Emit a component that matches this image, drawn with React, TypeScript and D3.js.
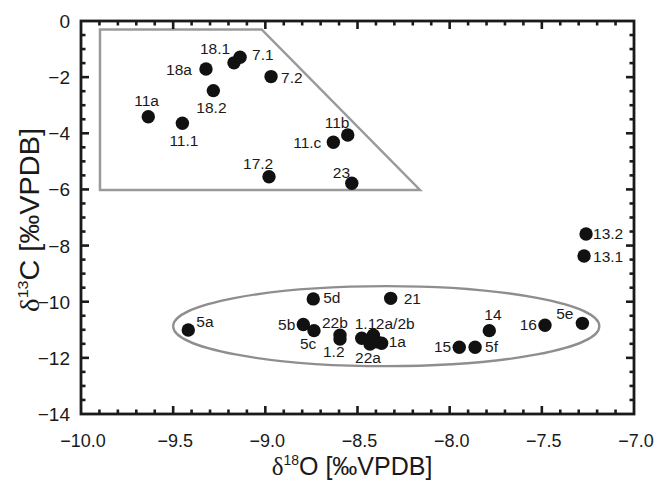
import * as d3 from "d3";

// sample ids, d18O (x) and d13C (y)
const samples = ["11a", "11.1", "18a", "18.2", "18.1", "7.1", "7.2", "11b", "11.c", "17.2", "23",
  "5a", "5d", "5b", "5c", "22b", "1.2", "1.1", "2a", "2b", "22a", "1a", "21",
  "14", "15", "5f", "16", "5e", "13.2", "13.1"];
const d18O = [-9.635, -9.45, -9.322, -9.282, -9.17, -9.137, -8.969, -8.553, -8.631, -8.98, -8.531,
  -9.418, -8.74, -8.794, -8.736, -8.595, -8.595, -8.477, -8.414, -8.396, -8.432, -8.369, -8.32,
  -7.785, -7.948, -7.862, -7.483, -7.28, -7.26, -7.271];
const d13C = [-3.41, -3.64, -1.71, -2.48, -1.49, -1.29, -1.98, -4.06, -4.32, -5.55, -5.78,
  -11.01, -9.9, -10.81, -11.03, -11.19, -11.33, -11.3, -11.19, -11.43, -11.51, -11.48, -9.88,
  -11.03, -11.62, -11.62, -10.84, -10.77, -7.59, -8.37];
// text shown next to each point ("" = no own label)
const pointLabels = ["11a", "11.1", "18a", "18.2", "18.1", "7.1", "7.2", "11b", "11.c", "17.2", "23",
  "5a", "5d", "5b", "5c", "22b", "1.2", "1.1", "2a/2b", "", "22a", "1a", "21",
  "14", "15", "5f", "16", "5e", "13.2", "13.1"];

const xTickLabels = [-10, -9.5, -9, -8.5, -8, -7.5, -7];
const yTickLabels = [0, -2, -4, -6, -8, -10, -12, -14];

// group outlines (data units)
const insetOutline: [number, number][] = [[-9.897, -0.3], [-9.02, -0.3], [-8.161, -6.02], [-9.897, -6.02]];
const clusterEllipse = { cx: -8.344, cy: -10.87, rx: 1.156, ry: 1.425 };

// label placement: dx, dy in px, anchor
const labelPos: [number, number, string][] = [
  [-14, -11, "start"], [-13, 23, "start"], [-14, 6, "end"], [-17, 22, "start"], [-34, -9, "start"],
  [12, 3, "start"], [10, 6, "start"], [-23, -7, "start"], [-12, 6, "end"], [-26, -8, "start"],
  [-19, -5, "start"], [8, -3, "start"], [10, 4, "start"], [-8, 6, "end"], [-14, 18, "start"],
  [-18, -7, "start"], [-17, 18, "start"], [-7, -9, "start"], [2.5, -6, "start"], [0, 0, "start"],
  [-15, 19, "start"], [7, 4, "start"], [13, 6, "start"], [-5, -11, "start"], [-8, 5, "end"],
  [10, 5, "start"], [-8, 5, "end"], [-9, -4, "end"], [7, 5, "start"], [9, 6, "start"],
];

const W = 671, H = 483;
const left = 81, right = 634, top = 21, bottom = 414;
const ink = "#1a1a1a";
const font = "'Liberation Sans', Arial, sans-serif";

export default function App() {
  const x = d3.scaleLinear().domain([-10, -7]).range([left, right]);
  const y = d3.scaleLinear().domain([0, -14]).range([top, bottom]);

  const xMinor = d3.range(1, 30).map((i) => -10 + i * 0.1);
  const yMinor = d3.range(1, 28).map((i) => -i * 0.5);
  const isMajorX = (v: number) => Math.abs(v * 2 - Math.round(v * 2)) < 1e-6;
  const isMajorY = (v: number) => Math.abs(v / 2 - Math.round(v / 2)) < 1e-6;

  const line = d3.line<[number, number]>().x((d) => x(d[0])).y((d) => y(d[1]));
  const fmtX = d3.format(".1f");

  return (
    <svg width={W} height={H} style={{ position: "absolute", left: 0, top: 0, background: "#fff" }}>
      {/* group outlines */}
      <path d={line(insetOutline)! + "Z"} fill="none" stroke="#9a9a9a" strokeWidth={2.5} />
      <ellipse
        cx={x(clusterEllipse.cx)}
        cy={y(clusterEllipse.cy)}
        rx={x(clusterEllipse.cx + clusterEllipse.rx) - x(clusterEllipse.cx)}
        ry={y(clusterEllipse.cy - clusterEllipse.ry) - y(clusterEllipse.cy)}
        fill="none"
        stroke="#8e8e8e"
        strokeWidth={2.3}
      />

      {/* frame */}
      <rect x={left} y={top} width={right - left} height={bottom - top} fill="none" stroke={ink} strokeWidth={2.8} />

      {/* ticks, inward on all four sides */}
      {xMinor.map((v) => {
        const len = isMajorX(v) ? 8 : 4.5;
        return (
          <g key={"xt" + v} stroke={ink} strokeWidth={2.6}>
            <line x1={x(v)} x2={x(v)} y1={bottom} y2={bottom - len} />
            <line x1={x(v)} x2={x(v)} y1={top} y2={top + len} />
          </g>
        );
      })}
      {yMinor.map((v) => {
        const len = isMajorY(v) ? 8 : 4.5;
        return (
          <g key={"yt" + v} stroke={ink} strokeWidth={2.6}>
            <line x1={left} x2={left + len} y1={y(v)} y2={y(v)} />
            <line x1={right} x2={right - len} y1={y(v)} y2={y(v)} />
          </g>
        );
      })}

      {/* tick labels */}
      {xTickLabels.map((v) => (
        <text key={"xl" + v} x={x(v) + 2} y={447} textAnchor="middle" fontFamily={font} fontSize={18} fill={ink}>
          {fmtX(v)}
        </text>
      ))}
      {yTickLabels.map((v) => (
        <text key={"yl" + v} x={70} y={y(v) + 7} textAnchor="end" fontFamily={font} fontSize={19} fill={ink}>
          {d3.format("d")(v)}
        </text>
      ))}

      {/* axis titles */}
      <text x={352} y={475} textAnchor="middle" fontFamily={font} fontSize={25} fill={ink}>
        <tspan fontFamily="'Liberation Serif', serif">δ</tspan>
        <tspan fontSize={14} dy={-10}>18</tspan>
        <tspan dy={10}>O [‰VPDB]</tspan>
      </text>
      <g transform={`translate(39,220) rotate(-90) scale(1.07,1)`}>
        <text textAnchor="middle" fontFamily={font} fontSize={27} fill={ink}>
          <tspan fontFamily="'Liberation Serif', serif">δ</tspan>
          <tspan fontSize={15} dy={-11}>13</tspan>
          <tspan dy={11}>C [‰VPDB]</tspan>
        </text>
      </g>

      {/* points */}
      {samples.map((s, i) => (
        <circle key={"p" + s} cx={x(d18O[i])} cy={y(d13C[i])} r={6.7} fill="#111" />
      ))}
      {samples.map((s, i) =>
        pointLabels[i] ? (
          <text
            key={"l" + s}
            x={x(d18O[i]) + labelPos[i][0]}
            y={y(d13C[i]) + labelPos[i][1]}
            textAnchor={labelPos[i][2]}
            fontFamily={font}
            fontSize={15.5}
            fill={ink}
          >
            {pointLabels[i]}
          </text>
        ) : null
      )}
    </svg>
  );
}
